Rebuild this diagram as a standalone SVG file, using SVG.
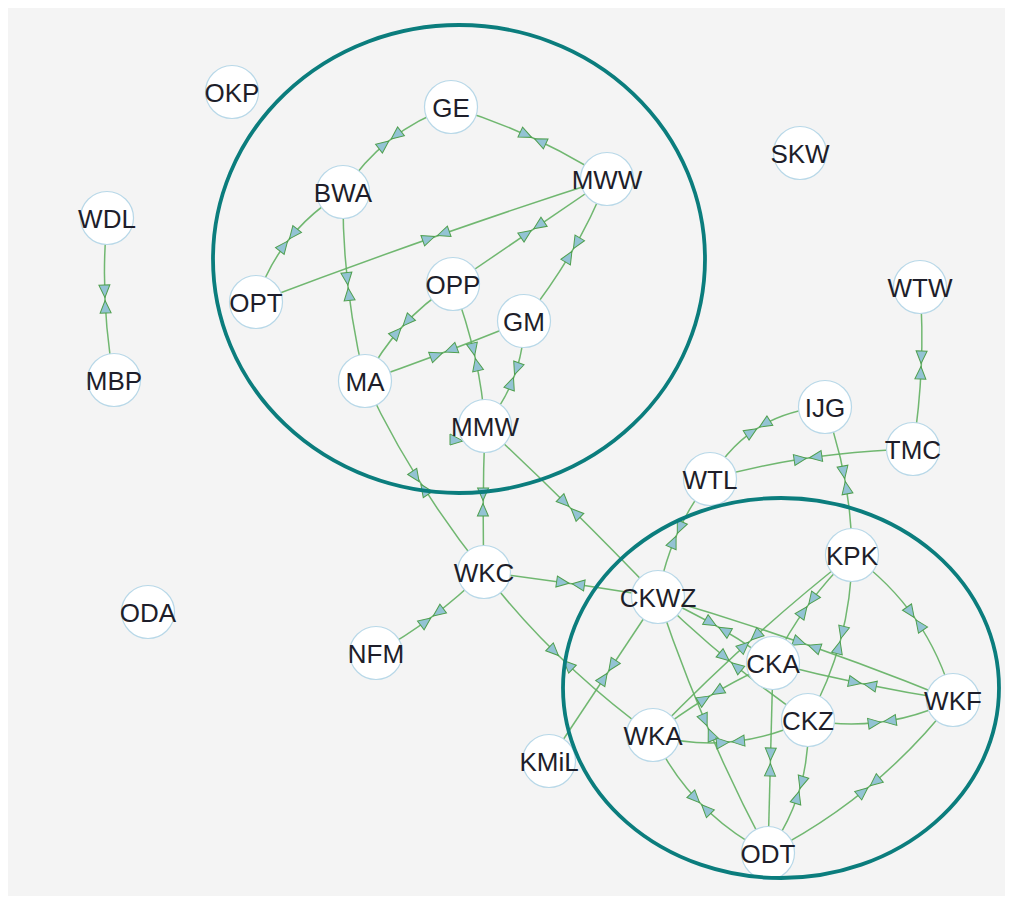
<svg xmlns="http://www.w3.org/2000/svg" xmlns:xlink="http://www.w3.org/1999/xlink" width="1013" height="900" viewBox="0 0 1013 900">
  <style>
    .edge { fill: none; stroke: #62b062; stroke-opacity: 0.9; stroke-width: 1.5; }
    .tri { fill: #93c3d4; stroke: #4f9f4f; stroke-width: 1; }
    .node circle { fill: #ffffff; stroke: #b8d8e8; stroke-width: 1.2; }
    .node text { font-family: "Liberation Sans", Arial, sans-serif; font-size: 26px; fill: #1e1e2a; text-anchor: middle; }
    .group { fill: none; stroke: #0b7d7d; stroke-width: 3.8; }
  </style>
  <defs>
    <!-- pair of opposing arrowheads placed at an edge's midpoint -->
    <g id="bt">
      <polygon class="tri" points="-1.5,0 -14,-5.5 -14,5.5"/>
      <polygon class="tri" points="1.5,0 14,-5.5 14,5.5"/>
    </g>
    <g id="bt-wide">
      <polygon class="tri" points="-3.5,0 -16,-5.5 -16,5.5"/>
      <polygon class="tri" points="3.5,0 16,-5.5 16,5.5"/>
    </g>
  </defs>

  <rect x="8" y="8" width="997" height="888" fill="#f4f4f4"/>

  <g id="connectors">
    <path class="edge" d="M451,107 Q383,130.5 343,192"/>
    <path class="edge" d="M451,107 Q537,133 607,179"/>
    <path class="edge" d="M343,192 Q277.5,233 256,302"/>
    <path class="edge" d="M343,192 Q342,286.5 365,381"/>
    <path class="edge" d="M607,179 Q441,232 256,302"/>
    <path class="edge" d="M607,179 Q535,228 453,284"/>
    <path class="edge" d="M607,179 Q580,250 524,321"/>
    <path class="edge" d="M453,284 Q395,321.5 365,381"/>
    <path class="edge" d="M524,321 Q443,354 365,381"/>
    <path class="edge" d="M453,284 Q481,359 485,426"/>
    <path class="edge" d="M524,321 Q524,379 485,426"/>
    <path class="edge" d="M365,381 Q409.5,478 484,572"/>
    <path class="edge" d="M485,426 Q482,500 484,572"/>
    <path class="edge" d="M485,426 Q568.5,503.5 658,597"/>
    <path class="edge" d="M484,572 Q570,582.5 658,597"/>
    <path class="edge" d="M484,572 Q434,621 376,653"/>
    <path class="edge" d="M484,572 Q554,663 653,735"/>
    <path class="edge" d="M658,597 L549,761"/>
    <path class="edge" d="M658,597 Q669.4,531.6 710,479"/>
    <path class="edge" d="M710,479 Q748.6,412.7 825,407"/>
    <path class="edge" d="M710,479 Q804.5,452 913,449"/>
    <path class="edge" d="M825,407 Q851.5,479 852,555"/>
    <path class="edge" d="M920,287 Q926,366 913,449"/>
    <path class="edge" d="M107,218 Q99.5,299 114,380"/>
    <path class="edge" d="M852,555 Q803.1,602.2 773,663"/>
    <path class="edge" d="M852,555 Q747.5,637 653,735"/>
    <path class="edge" d="M852,555 Q851,643 808,720"/>
    <path class="edge" d="M852,555 Q928,609.7 953,700"/>
    <path class="edge" d="M658,597 Q719.5,623 773,663"/>
    <path class="edge" d="M658,597 Q808.2,640.8 953,700"/>
    <path class="edge" d="M658,597 Q727.7,665 808,720"/>
    <path class="edge" d="M658,597 Q702.3,729.6 768,853"/>
    <path class="edge" d="M773,663 Q708.6,691.6 653,735"/>
    <path class="edge" d="M773,663 Q862,686 953,700"/>
    <path class="edge" d="M773,663 L768,853"/>
    <path class="edge" d="M808,720 Q730.5,756.5 653,735"/>
    <path class="edge" d="M808,720 Q883.8,733.8 953,700"/>
    <path class="edge" d="M808,720 Q811,793.4 768,853"/>
    <path class="edge" d="M653,735 Q690.7,813.3 768,853"/>
    <path class="edge" d="M953,700 Q877.5,797 768,853"/>

    <!-- midpoint arrowheads -->
    <use xlink:href="#bt" transform="translate(390,140) rotate(141.8)"/>
    <use xlink:href="#bt" transform="translate(533,138) rotate(24.8)"/>
    <use xlink:href="#bt" transform="translate(288.5,240) rotate(128.3)"/>
    <use xlink:href="#bt" transform="translate(348,286.5) rotate(83.4)"/>
    <use xlink:href="#bt" transform="translate(436,236) rotate(160.7)"/>
    <use xlink:href="#bt" transform="translate(532.5,229.7) rotate(145.7)"/>
    <use xlink:href="#bt" transform="translate(572.7,250) rotate(120.3)"/>
    <use xlink:href="#bt" transform="translate(402,327) rotate(132.2)"/>
    <use xlink:href="#bt" transform="translate(443.7,352.5) rotate(159.3)"/>
    <use xlink:href="#bt" transform="translate(475,357) rotate(77.3)"/>
    <use xlink:href="#bt" transform="translate(514,376) rotate(110.4)"/>
    <use xlink:href="#bt" transform="translate(420,483) rotate(56)"/>
    <use xlink:href="#bt" transform="translate(483,502) rotate(90.4)"/>
    <use xlink:href="#bt" transform="translate(570,507.5) rotate(44.7)"/>
    <use xlink:href="#bt" transform="translate(570.5,583.5) rotate(8.2)"/>
    <use xlink:href="#bt" transform="translate(432,617) rotate(143.1)"/>
    <use xlink:href="#bt-wide" transform="translate(561,658) rotate(44)"/>
    <use xlink:href="#bt" transform="translate(608,672) rotate(123.6)"/>
    <use xlink:href="#bt" transform="translate(676.7,534.8) rotate(-66.2)"/>
    <use xlink:href="#bt" transform="translate(758,428) rotate(-32)"/>
    <use xlink:href="#bt" transform="translate(808,458) rotate(-8.4)"/>
    <use xlink:href="#bt" transform="translate(845,480) rotate(79.7)"/>
    <use xlink:href="#bt" transform="translate(921,365) rotate(92.5)"/>
    <use xlink:href="#bt" transform="translate(105,299) rotate(87.5)"/>
    <use xlink:href="#bt" transform="translate(807.8,605.6) rotate(126.2)"/>
    <use xlink:href="#bt" transform="translate(750,641) rotate(137.9)"/>
    <use xlink:href="#bt" transform="translate(840.5,640) rotate(104.9)"/>
    <use xlink:href="#bt" transform="translate(915,618.6) rotate(55.1)"/>
    <use xlink:href="#bt" transform="translate(717.5,626.5) rotate(29.9)"/>
    <use xlink:href="#bt" transform="translate(806.8,644.7) rotate(19.2)"/>
    <use xlink:href="#bt" transform="translate(730.4,661.7) rotate(39.4)"/>
    <use xlink:href="#bt" transform="translate(707.7,727.3) rotate(66.7)"/>
    <use xlink:href="#bt" transform="translate(710.8,695.3) rotate(149)"/>
    <use xlink:href="#bt" transform="translate(862.5,683.8) rotate(11.6)"/>
    <use xlink:href="#bt" transform="translate(770.4,762) rotate(91.5)"/>
    <use xlink:href="#bt" transform="translate(730.5,742) rotate(174.5)"/>
    <use xlink:href="#bt" transform="translate(882.2,721.9) rotate(-7.9)"/>
    <use xlink:href="#bt" transform="translate(799.5,790) rotate(106.7)"/>
    <use xlink:href="#bt" transform="translate(700.6,803.7) rotate(45.7)"/>
    <use xlink:href="#bt" transform="translate(869,786.8) rotate(140.4)"/>
    <polygon class="tri" points="450,434 450,445 463,441"/>
  </g>

  <g id="nodes">
    <g class="node" id="node-OKP"><circle cx="232" cy="92" r="26.5"/><text x="232" y="101.5">OKP</text></g>
    <g class="node" id="node-GE"><circle cx="451" cy="107" r="26.5"/><text x="451" y="116.5">GE</text></g>
    <g class="node" id="node-SKW"><circle cx="800" cy="153" r="26.5"/><text x="800" y="162.5">SKW</text></g>
    <g class="node" id="node-BWA"><circle cx="343" cy="192" r="26.5"/><text x="343" y="201.5">BWA</text></g>
    <g class="node" id="node-MWW"><circle cx="607" cy="179" r="26.5"/><text x="607" y="188.5">MWW</text></g>
    <g class="node" id="node-WDL"><circle cx="107" cy="218" r="26.5"/><text x="107" y="227.5">WDL</text></g>
    <g class="node" id="node-OPT"><circle cx="256" cy="302" r="26.5"/><text x="256" y="311.5">OPT</text></g>
    <g class="node" id="node-WTW"><circle cx="920" cy="287" r="26.5"/><text x="920" y="296.5">WTW</text></g>
    <g class="node" id="node-OPP"><circle cx="453" cy="284" r="26.5"/><text x="453" y="293.5">OPP</text></g>
    <g class="node" id="node-GM"><circle cx="524" cy="321" r="26.5"/><text x="524" y="330.5">GM</text></g>
    <g class="node" id="node-MBP"><circle cx="114" cy="380" r="26.5"/><text x="114" y="389.5">MBP</text></g>
    <g class="node" id="node-MA"><circle cx="365" cy="381" r="26.5"/><text x="365" y="390.5">MA</text></g>
    <g class="node" id="node-MMW"><circle cx="485" cy="426" r="26.5"/><text x="485" y="435.5">MMW</text></g>
    <g class="node" id="node-IJG"><circle cx="825" cy="407" r="26.5"/><text x="825" y="416.5">IJG</text></g>
    <g class="node" id="node-TMC"><circle cx="913" cy="449" r="26.5"/><text x="913" y="458.5">TMC</text></g>
    <g class="node" id="node-WTL"><circle cx="710" cy="479" r="26.5"/><text x="710" y="488.5">WTL</text></g>
    <g class="node" id="node-KPK"><circle cx="852" cy="555" r="26.5"/><text x="852" y="564.5">KPK</text></g>
    <g class="node" id="node-WKC"><circle cx="484" cy="572" r="26.5"/><text x="484" y="581.5">WKC</text></g>
    <g class="node" id="node-CKWZ"><circle cx="658" cy="597" r="26.5"/><text x="658" y="606.5">CKWZ</text></g>
    <g class="node" id="node-ODA"><circle cx="148" cy="612" r="26.5"/><text x="148" y="621.5">ODA</text></g>
    <g class="node" id="node-NFM"><circle cx="376" cy="653" r="26.5"/><text x="376" y="662.5">NFM</text></g>
    <g class="node" id="node-CKA"><circle cx="773" cy="663" r="26.5"/><text x="773" y="672.5">CKA</text></g>
    <g class="node" id="node-WKF"><circle cx="953" cy="700" r="26.5"/><text x="953" y="709.5">WKF</text></g>
    <g class="node" id="node-CKZ"><circle cx="808" cy="720" r="26.5"/><text x="808" y="729.5">CKZ</text></g>
    <g class="node" id="node-WKA"><circle cx="653" cy="735" r="26.5"/><text x="653" y="744.5">WKA</text></g>
    <g class="node" id="node-KMiL"><circle cx="549" cy="761" r="26.5"/><text x="549" y="770.5">KMiL</text></g>
    <g class="node" id="node-ODT"><circle cx="768" cy="853" r="26.5"/><text x="768" y="862.5">ODT</text></g>
  </g>

  <g id="groups">
    <ellipse class="group" cx="459" cy="259" rx="246" ry="234"/>
    <ellipse class="group" cx="781" cy="688" rx="218" ry="190"/>
  </g>
</svg>
